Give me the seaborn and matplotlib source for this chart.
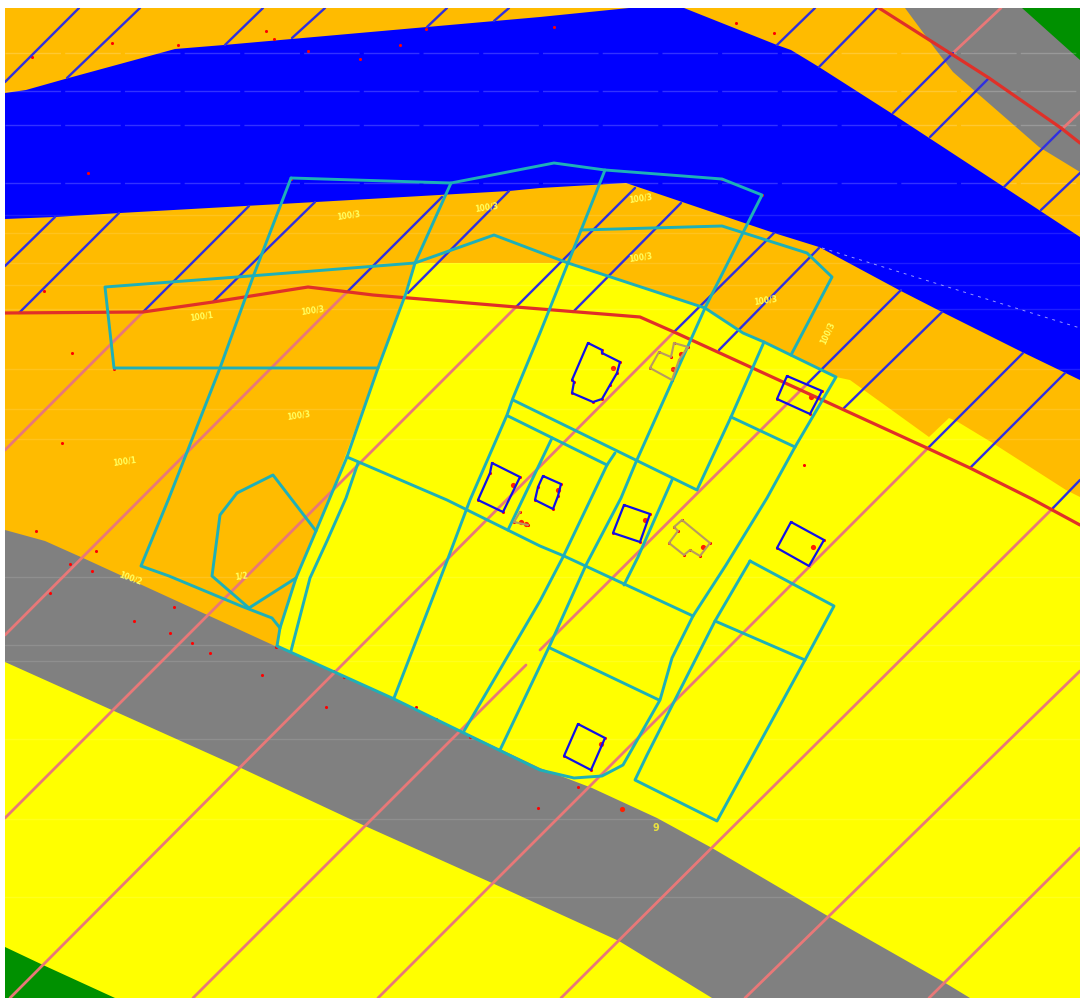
import matplotlib
matplotlib.use("Agg")
import matplotlib.pyplot as plt
import seaborn as sns

# all coordinates
orange_area = [(5, 8), (1080, 8), (1080, 497), (1066, 490), (991, 442), (958, 422), (949, 418), (929, 437),
               (850, 380), (836, 377), (764, 342), (743, 333), (705, 308), (568, 263), (415, 263), (378, 368),
               (330, 497), (316, 531), (296, 578), (280, 628), (277, 647), (5, 600)]
river = [(5, 93), (26, 90), (65, 79), (175, 49), (224, 45), (427, 27), (540, 17), (629, 8), (684, 8), (777, 45),
         (791, 50), (819, 67), (891, 113), (1004, 187), (1080, 237), (1080, 380), (1022, 352), (942, 312),
         (899, 290), (819, 247), (774, 233), (626, 183), (540, 188), (509, 191), (316, 202), (120, 213),
         (55, 217), (5, 219)]
road_main = [(5, 530), (45, 541), (83, 558), (275, 646), (392, 698), (540, 768), (592, 788), (657, 818),
             (712, 848), (826, 915), (942, 981), (970, 998), (712, 998), (619, 941), (540, 905), (492, 883),
             (365, 826), (241, 768), (114, 711), (5, 662)]
road_corner = [(905, 8), (936, 50), (953, 72), (977, 93), (1039, 147), (1080, 172), (1080, 8)]
green_top = [(1022, 8), (1080, 60), (1080, 8)]
green_bottom = [(5, 947), (43, 965), (115, 998), (5, 998)]

hatch_blue = [
    [(5, 82), (79, 8)], [(67, 78), (140, 8)], [(225, 45), (263, 8)], [(292, 38), (325, 8)],
    [(427, 27), (447, 8)], [(494, 21), (509, 8)], [(777, 45), (815, 8)], [(819, 67), (877, 8)],
    [(893, 113), (953, 53)], [(930, 137), (989, 78)], [(1004, 187), (1061, 130)], [(1041, 210), (1080, 173)],
    [(5, 266), (55, 217)], [(19, 313), (119, 213)], [(143, 312), (249, 206)], [(213, 302), (315, 202)],
    [(347, 292), (442, 197)], [(408, 293), (509, 191)], [(516, 307), (635, 188)], [(573, 312), (681, 203)],
    [(674, 332), (774, 233)], [(719, 350), (819, 248)], [(808, 383), (901, 290)], [(844, 408), (942, 312)],
    [(929, 447), (1023, 353)], [(970, 468), (1065, 373)], [(1053, 508), (1080, 480)],
]
hatch_pink = [
    [(953, 53), (1001, 8)], [(1061, 130), (1080, 112)], [(5, 450), (143, 312)], [(5, 635), (347, 292)],
    [(5, 818), (516, 307)], [(10, 998), (674, 332)], [(193, 998), (526, 665)], [(540, 650), (808, 383)],
    [(378, 998), (929, 447)], [(561, 998), (1053, 508)], [(745, 998), (1080, 671)], [(929, 998), (1080, 848)],
]
red_lines = [
    [(5, 313), (143, 312), (213, 302), (308, 287), (373, 295), (516, 307), (640, 317), (674, 332), (927, 448),
     (970, 468), (1032, 499), (1080, 525)],
    [(879, 8), (953, 55), (989, 78), (1061, 128), (1080, 143)],
]
parcels = [
    [(291, 178), (451, 183), (554, 163), (605, 170), (722, 179), (762, 195), (705, 308), (636, 462), (621, 498),
     (586, 565), (550, 645), (500, 750)],
    [(605, 170), (568, 263), (540, 333), (513, 398), (507, 415), (470, 500), (447, 561), (394, 698)],
    [(415, 263), (494, 235), (568, 263), (705, 308), (743, 333), (764, 342), (836, 377), (795, 447), (767, 498),
     (726, 565), (693, 616), (672, 658), (660, 700), (623, 765), (602, 776), (574, 778), (540, 770), (392, 698),
     (277, 646)],
    [(451, 183), (415, 263), (406, 293), (378, 368), (347, 457), (316, 531), (296, 578), (280, 628), (277, 646)],
    [(358, 463), (346, 498), (327, 541), (310, 578), (291, 651)],
    [(291, 178), (253, 277), (220, 368), (169, 498), (141, 566), (169, 576), (241, 606), (272, 618), (280, 628)],
    [(237, 493), (273, 475), (316, 531)],
    [(237, 493), (220, 515), (212, 576), (249, 608), (296, 578)],
    [(415, 263), (237, 277), (105, 287), (114, 368), (378, 368)],
    [(581, 230), (722, 226), (807, 253), (832, 277), (791, 355)],
    [(513, 400), (697, 490), (731, 417), (764, 342)],
    [(731, 417), (795, 447)],
    [(508, 416), (607, 465), (563, 557), (540, 601), (464, 731)],
    [(615, 453), (607, 465)],
    [(552, 438), (508, 530)],
    [(672, 480), (638, 557), (624, 585)],
    [(347, 457), (447, 500), (540, 546), (564, 556), (693, 616)],
    [(550, 648), (659, 700)],
    [(750, 561), (834, 606), (805, 660), (717, 821), (635, 780), (647, 755), (715, 621), (750, 561)],
    [(715, 621), (805, 660)],
]
houses_blue = [
    [(588, 343), (602, 350), (602, 353), (620, 362), (617, 373), (610, 385), (602, 399), (593, 402), (572, 393),
     (574, 382), (572, 380), (588, 343)],
    [(492, 463), (520, 477), (503, 512), (478, 500), (490, 473), (492, 463)],
    [(543, 476), (561, 484), (558, 496), (553, 509), (535, 500), (538, 487), (543, 476)],
    [(624, 505), (650, 514), (640, 542), (613, 533), (624, 505)],
    [(791, 522), (824, 540), (809, 566), (777, 548), (791, 522)],
    [(578, 724), (605, 738), (591, 770), (564, 756), (578, 724)],
    [(787, 376), (822, 391), (810, 414), (777, 399), (787, 376)],
]
houses_brown = [
    [(674, 343), (688, 347), (679, 360), (672, 380), (650, 368), (659, 352), (671, 357), (674, 343)],
    [(682, 520), (710, 543), (700, 556), (690, 550), (684, 555), (669, 543), (678, 531), (674, 527), (682, 520)],
    [(520, 512), (514, 522), (528, 525)],
]
red_dots_x = [32, 112, 178, 266, 274, 308, 360, 400, 426, 88, 291, 44, 72, 62, 114, 554, 736, 774, 722, 762, 804,
              36, 96, 70, 92, 50, 174, 134, 170, 192, 210, 262, 276, 334, 344, 326, 416, 436, 470, 538, 578]
red_dots_y = [57, 43, 45, 31, 39, 51, 59, 45, 29, 173, 179, 291, 353, 443, 369, 27, 23, 33, 179, 195, 465,
              531, 551, 564, 571, 593, 607, 621, 633, 643, 653, 675, 647, 671, 677, 707, 707, 719, 737, 808, 787]
big_dots_x = [613, 673, 681, 811, 513, 558, 645, 703, 813, 601, 622, 521, 526]
big_dots_y = [368, 369, 354, 397, 485, 490, 520, 547, 547, 744, 809, 522, 524]
label_x = [348, 486, 640, 640, 765, 827, 201, 312, 298, 124, 130, 241]
label_y = [215, 207, 198, 257, 300, 333, 316, 310, 415, 461, 578, 576]
label_rot = [8, 8, 8, 8, 8, 65, 8, 8, 8, 8, -20, 8]
label_txt = ["100/3", "100/3", "100/3", "100/3", "100/3", "100/3", "100/1", "100/3", "100/3", "100/1", "100/2", "1/2"]
streak_y_river = [53, 91, 125, 183]
streak_y_land = [215, 233, 263, 285, 309, 369, 409, 439, 577, 645, 661, 739, 819, 897]


def draw_line(points, color, width, ax, **kw):
    xs = [p[0] for p in points]
    ys = [p[1] for p in points]
    sns.lineplot(x=xs, y=ys, sort=False, estimator=None, color=color, linewidth=width, ax=ax, **kw)


def fill_area(points, color, ax):
    ax.fill([p[0] for p in points], [p[1] for p in points], color=color, linewidth=0)


sns.set_theme(style="white")
fig = plt.figure(figsize=(10.8, 9.98), dpi=100)
ax = fig.add_axes([5 / 1080, 0, 1075 / 1080, 990 / 998])
ax.set_facecolor("#FFFF00")

fill_area(orange_area, "#FFBB00", ax)
fill_area(road_corner, "#808080", ax)
fill_area(road_main, "#808080", ax)
fill_area(river, "#0000FF", ax)
fill_area(green_top, "#009000", ax)
fill_area(green_bottom, "#009000", ax)

for y in streak_y_river:
    ax.axhline(y, color="white", alpha=0.2, linewidth=1.0, dashes=(40, 3))
for y in streak_y_land:
    ax.axhline(y, color="white", alpha=0.12, linewidth=1.0)
draw_line([(822, 248), (1080, 328)], "white", 0.7, ax, alpha=0.6, dashes=(3, 5))

for seg in hatch_pink:
    draw_line(seg, "#E87878", 2.0, ax)
for seg in hatch_blue:
    draw_line(seg, "#2F2FE0", 1.7, ax)
for seg in red_lines:
    draw_line(seg, "#E03028", 2.3, ax)
for seg in parcels:
    draw_line(seg, "#1EB0B8", 2.1, ax)
for seg in houses_brown:
    draw_line(seg, "#B89A60", 1.5, ax)
    sns.scatterplot(x=[p[0] for p in seg], y=[p[1] for p in seg], color="red", s=5, linewidth=0, ax=ax)
for seg in houses_blue:
    draw_line(seg, "#1010E8", 1.6, ax)
    sns.scatterplot(x=[p[0] for p in seg], y=[p[1] for p in seg], color="red", s=5, linewidth=0, ax=ax)

sns.scatterplot(x=red_dots_x, y=red_dots_y, color="red", s=5, linewidth=0, ax=ax)
sns.scatterplot(x=big_dots_x, y=big_dots_y, color="#FF2000", s=14, linewidth=0, ax=ax)

for x, y, r, t in zip(label_x, label_y, label_rot, label_txt):
    ax.text(x, y, t, color="#FFFF60", fontsize=5.5, fontweight="bold", rotation=r, ha="center", va="center")
ax.text(656, 828, "9", color="#E8E040", fontsize=7, fontweight="bold", ha="center", va="center")

ax.set_xlim(5, 1080)
ax.set_ylim(998, 8)
ax.set_xticks([])
ax.set_yticks([])
sns.despine(ax=ax, left=True, bottom=True)
fig.savefig("out.png", dpi=100)
